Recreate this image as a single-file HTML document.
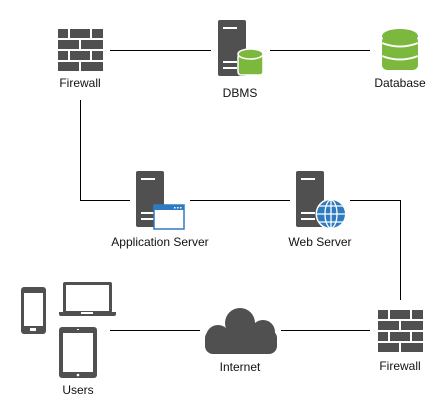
<!DOCTYPE html>
<html><head><style>
html,body{margin:0;padding:0;background:#fff;}
svg{display:block}
text{font-family:"Liberation Sans",Arial,sans-serif;font-size:12px;fill:#111;text-anchor:middle}
</style></head><body>
<svg width="448" height="420" viewBox="0 0 448 420" xmlns="http://www.w3.org/2000/svg">
<defs>
<g id="fw" fill="#505050">
<rect x="0" y="0" width="10" height="9"/><rect x="12" y="0" width="20" height="9"/><rect x="34" y="0" width="11" height="9"/>
<rect x="0" y="11" width="21" height="9"/><rect x="23" y="11" width="22" height="9"/>
<rect x="0" y="22" width="10" height="9"/><rect x="12" y="22" width="20" height="9"/><rect x="34" y="22" width="11" height="9"/>
<rect x="0" y="33" width="21" height="9"/><rect x="23" y="33" width="22" height="9"/>
</g>
<g id="srv">
<rect x="0" y="0" width="28" height="56" rx="2" fill="#505050"/>
<rect x="5" y="7" width="14" height="2" fill="#fff"/>
<rect x="5" y="41" width="14" height="2" fill="#fff"/>
<rect x="5" y="47" width="14" height="2" fill="#fff"/>
</g>
</defs>
<g stroke="#000" stroke-width="1" fill="none">
<path d="M110 50.5H211M270 50.5H370"/>
<path d="M80.5 100V200.5H130M190 200.5H290M350 200.5H400.5V300"/>
<path d="M110 330.5H200M281 330.5H370"/>
</g>
<use href="#fw" x="58" y="29"/>
<text x="80" y="87">Firewall</text>
<use href="#srv" x="218" y="20"/>
<g>
<rect x="238" y="54" width="25" height="21" rx="3" fill="#7cb83d" stroke="#fff" stroke-width="1.5"/>
<ellipse cx="250.5" cy="54" rx="12.5" ry="5" fill="#7cb83d" stroke="#fff" stroke-width="1.5"/>
</g>
<text x="240" y="97">DBMS</text>
<g fill="#7cb83d">
<ellipse cx="400" cy="36" rx="18" ry="7"/>
<rect x="382" y="36" width="36" height="34" rx="5"/>
</g>
<path d="M382 43Q400 50 418 43M382 56Q400 63 418 56" stroke="#fff" stroke-width="2" fill="none"/>
<text x="400" y="87">Database</text>
<use href="#srv" x="136" y="171"/>
<rect x="154" y="205" width="30" height="24" fill="#fff" stroke="#2f7bc2" stroke-width="1.5"/>
<rect x="154" y="205" width="30" height="5" fill="#2f7bc2"/>
<rect x="174" y="207" width="1.5" height="1.5" fill="#fff"/><rect x="177" y="207" width="1.5" height="1.5" fill="#fff"/><rect x="180" y="207" width="1.5" height="1.5" fill="#fff"/>
<text x="160" y="246">Application Server</text>
<use href="#srv" x="296" y="171"/>
<circle cx="331" cy="214" r="15.5" fill="#fff"/>
<circle cx="331" cy="214" r="14" fill="#2f7bc2"/>
<g stroke="#fff" stroke-width="1.3" fill="none">
<ellipse cx="331" cy="214" rx="6" ry="14"/>
<path d="M331 200V228M317 214H345M319 206H343M319 222H343"/>
</g>
<text x="320" y="246">Web Server</text>
<g fill="#505050">
<rect x="21" y="287" width="25" height="47" rx="3"/>
<rect x="59" y="327" width="38" height="51" rx="3"/>
<rect x="63" y="282" width="49" height="31" rx="2"/>
<path d="M59 312H116V314Q116 316 114 316H61Q59 316 59 314Z"/>
</g>
<g fill="#fff">
<rect x="24" y="293" width="19" height="33"/>
<rect x="30" y="328" width="6" height="3"/>
<rect x="63" y="333" width="30" height="39"/>
<circle cx="78" cy="375" r="1.3"/>
<rect x="77" y="329" width="2" height="1"/>
<rect x="66" y="285" width="43" height="26"/>
<rect x="81" y="312" width="12" height="2"/>
</g>
<text x="78" y="394">Users</text>
<g fill="#505050">
<circle cx="240" cy="323" r="15"/>
<circle cx="263" cy="332" r="12"/>
<circle cx="218" cy="337" r="12"/>
<rect x="205" y="330" width="72" height="24" rx="8"/>
</g>
<text x="240" y="371">Internet</text>
<use href="#fw" x="378" y="310"/>
<text x="400" y="370">Firewall</text>
</svg>
</body></html>
